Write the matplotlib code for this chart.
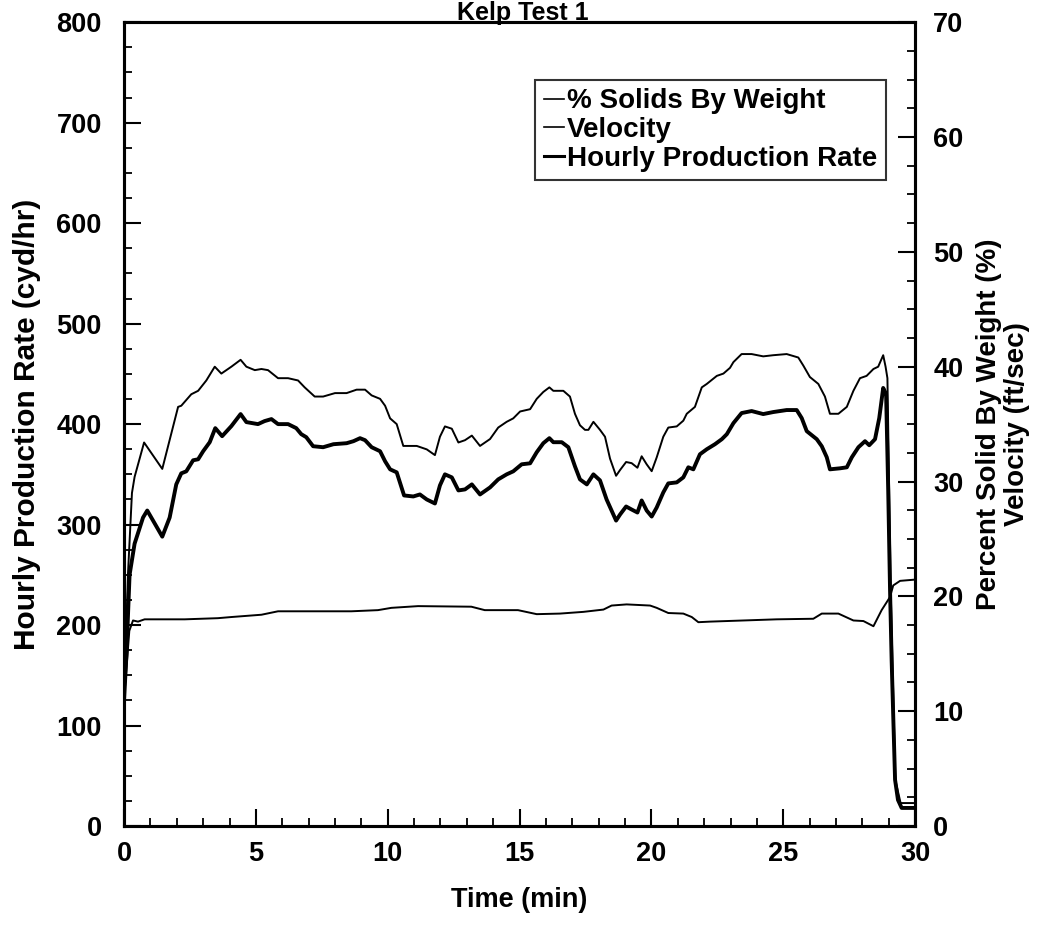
import matplotlib
matplotlib.use("Agg")
import matplotlib.pyplot as plt
from matplotlib.ticker import MultipleLocator
from matplotlib.lines import Line2D

plt.rcParams['font.family'] = ['Liberation Sans', 'DejaVu Sans']
plt.rcParams['font.weight'] = 'bold'

# hourly production rate (left axis, cyd/hr)
time_rate = [0, 0.09, 0.21, 0.40, 0.56, 0.72, 0.88, 1.10, 1.45, 1.73, 1.98, 2.17, 2.36, 2.62, 2.81,
             3.00, 3.25, 3.46, 3.72, 4.07, 4.42, 4.64, 5.08, 5.33, 5.59, 5.84, 6.22, 6.53, 6.72, 6.91,
             7.17, 7.55, 7.94, 8.44, 8.70, 8.95, 9.14, 9.39, 9.71, 9.90, 10.09, 10.34, 10.62, 10.97,
             11.22, 11.48, 11.79, 11.98, 12.17, 12.43, 12.68, 12.93, 13.19, 13.50, 13.88, 14.19, 14.51,
             14.76, 15.08, 15.40, 15.65, 15.90, 16.13, 16.28, 16.60, 16.85, 17.10, 17.29, 17.55, 17.80,
             18.05, 18.30, 18.66, 18.81, 19.04, 19.25, 19.47, 19.63, 19.82, 20.01, 20.20, 20.45, 20.64,
             20.96, 21.21, 21.40, 21.59, 21.84, 22.10, 22.41, 22.67, 22.86, 23.11, 23.42, 23.80, 24.24,
             24.62, 25.13, 25.51, 25.70, 25.89, 26.27, 26.46, 26.65, 26.77, 27.15, 27.41, 27.60, 27.85,
             28.10, 28.26, 28.48, 28.64, 28.79, 28.90, 28.98, 29.05, 29.11, 29.24, 29.35, 29.49, 29.92]
rate = [125, 170, 250, 281, 294, 307, 314, 304, 288, 307, 340, 351, 353, 364, 365,
        373, 382, 396, 388, 398, 410, 402, 400, 403, 405, 400, 400, 396, 390, 387,
        378, 377, 380, 381, 383, 386, 384, 377, 373, 363, 355, 352, 329, 328,
        330, 325, 321, 339, 350, 347, 334, 335, 340, 330, 337, 345, 350,
        353, 360, 361, 372, 381, 386, 382, 382, 377, 358, 345, 340, 350,
        344, 325, 304, 310, 318, 315, 312, 324, 314, 308, 317, 332, 341,
        342, 347, 357, 355, 370, 375, 380, 385, 390, 401, 411, 413, 410,
        412, 414, 414, 406, 393, 385, 378, 367, 355, 356, 357, 367, 377,
        383, 379, 385, 406, 436, 430, 334, 234, 165, 46, 26, 18, 18]

# % solids by weight (right axis)
time_solids = [0, 0.15, 0.30, 0.40, 0.76, 1.45, 2.05, 2.17, 2.55, 2.81, 3.12, 3.44, 3.69, 4.07, 4.42,
               4.64, 4.96, 5.21, 5.46, 5.84, 6.22, 6.60, 6.85, 7.23, 7.55, 8.00, 8.44, 8.82, 9.14, 9.39,
               9.71, 9.90, 10.09, 10.34, 10.59, 11.10, 11.48, 11.79, 11.98, 12.17, 12.43, 12.68, 12.93,
               13.19, 13.50, 13.88, 14.19, 14.51, 14.76, 15.02, 15.40, 15.65, 15.90, 16.13, 16.28, 16.66,
               16.91, 17.10, 17.29, 17.48, 17.61, 17.80, 18.05, 18.24, 18.43, 18.66, 18.81, 19.04, 19.25,
               19.47, 19.63, 19.82, 20.01, 20.20, 20.45, 20.64, 20.96, 21.21, 21.34, 21.65, 21.91, 22.10,
               22.48, 22.73, 22.98, 23.11, 23.42, 23.80, 24.24, 24.62, 25.13, 25.57, 25.76, 26.01, 26.33,
               26.58, 26.77, 27.09, 27.41, 27.66, 27.91, 28.16, 28.42, 28.60, 28.79, 28.88, 28.95, 29.08,
               29.25, 29.45, 29.92]
solids = [11, 22, 29, 30.4, 33.4, 31.1, 36.5, 36.6, 37.6, 37.9, 38.8, 40.0, 39.4, 40.0, 40.6,
          40.0, 39.7, 39.8, 39.7, 39.0, 39.0, 38.8, 38.2, 37.4, 37.4, 37.7, 37.7, 38.0, 38.0, 37.5,
          37.2, 36.6, 35.5, 35.0, 33.1, 33.1, 32.8, 32.3, 33.9, 34.8, 34.6, 33.4, 33.6,
          34.0, 33.1, 33.7, 34.7, 35.2, 35.5, 36.1, 36.3, 37.2, 37.8, 38.2, 37.9, 37.9,
          37.4, 35.9, 34.9, 34.5, 34.5, 35.2, 34.5, 33.9, 32.0, 30.5, 31.0, 31.7, 31.6,
          31.2, 32.2, 31.5, 30.9, 32.1, 33.9, 34.7, 34.8, 35.3, 35.9, 36.5, 38.2, 38.5,
          39.2, 39.4, 39.9, 40.4, 41.1, 41.1, 40.9, 41.0, 41.1, 40.8, 40.1, 39.1, 38.5,
          37.4, 35.9, 35.9, 36.5, 37.9, 39.0, 39.2, 39.8, 40.0, 41.0, 40.0, 39.0, 20,
          4, 2.0, 2.0]

# velocity (right axis, ft/sec)
time_vel = [0, 0.20, 0.34, 0.53, 0.78, 2.30, 3.56, 4.07, 5.21, 5.84, 7.36, 8.62, 9.63, 10.14, 11.15,
            13.17, 13.68, 14.94, 15.65, 16.53, 17.42, 18.18, 18.49, 19.06, 19.95, 20.20, 20.64, 21.21,
            21.53, 21.78, 22.22, 23.49, 24.75, 26.14, 26.46, 27.09, 27.66, 28.04, 28.42, 28.73, 29.05,
            29.17, 29.43, 29.95]
velocity = [11, 17.0, 17.9, 17.8, 18.0, 18.0, 18.1, 18.2, 18.4, 18.7, 18.7, 18.7, 18.8, 19.0, 19.15,
            19.1, 18.8, 18.8, 18.45, 18.5, 18.65, 18.85, 19.2, 19.3, 19.2, 19.0, 18.55, 18.5,
            18.2, 17.75, 17.8, 17.9, 18.0, 18.05, 18.5, 18.5, 17.9, 17.85, 17.4, 18.8, 19.95,
            20.95, 21.35, 21.45]

legend_labels = ['% Solids By Weight', 'Velocity', 'Hourly Production Rate']

fig = plt.figure(figsize=(10.45, 9.25), dpi=100)
ax = fig.add_axes([0.1187, 0.107, 0.757, 0.869])
ax2 = ax.twinx()

ax.plot(time_rate, rate, color='black', linewidth=2.8, solid_joinstyle='round')
ax2.plot(time_solids, solids, color='black', linewidth=1.4)
ax2.plot(time_vel, velocity, color='black', linewidth=1.4)

ax.set_xlim(0, 30)
ax.set_ylim(0, 800)
ax2.set_ylim(0, 70)

ax.xaxis.set_major_locator(MultipleLocator(5))
ax.xaxis.set_minor_locator(MultipleLocator(1))
ax.yaxis.set_major_locator(MultipleLocator(100))
ax.yaxis.set_minor_locator(MultipleLocator(25))
ax2.yaxis.set_major_locator(MultipleLocator(10))
ax2.yaxis.set_minor_locator(MultipleLocator(2.5))

for a in (ax, ax2):
    for s in a.spines.values():
        s.set_linewidth(2.2)
ax.tick_params(axis='both', which='major', direction='in', length=12, width=1.5,
               labelsize=19.5, pad=11, top=False, right=False)
ax.tick_params(axis='both', which='minor', direction='in', length=6, width=1.3,
               top=False, right=False)
ax.tick_params(axis='y', which='major', pad=16)
ax2.tick_params(axis='y', which='major', direction='in', length=12, width=1.5,
                labelsize=19.5, pad=13)
ax2.tick_params(axis='y', which='minor', direction='in', length=6, width=1.3)

ax.set_xlabel('Time (min)', fontsize=19.5, fontweight='bold', labelpad=14)
ax.set_ylabel('Hourly Production Rate (cyd/hr)', fontsize=21.5, fontweight='bold', labelpad=11)
ax2.set_ylabel('Percent Solid By Weight (%)\nVelocity (ft/sec)', fontsize=20, fontweight='bold',
               rotation=90, labelpad=9, linespacing=1.08)

fig.text(0.50, 1 - 1 / 925, 'Kelp Test 1', ha='center', va='top',
         fontsize=18, fontweight='bold')

handles = [Line2D([], [], color='black', linewidth=1.2),
           Line2D([], [], color='black', linewidth=1.2),
           Line2D([], [], color='black', linewidth=2.2)]
leg = ax.legend(handles, legend_labels, loc='upper right', bbox_to_anchor=(0.963, 0.928),
                fontsize=20, frameon=True, fancybox=False, handlelength=0.75, handletextpad=0.1,
                labelspacing=0.1, borderpad=0.3, borderaxespad=0)
leg.get_frame().set_edgecolor('black')
leg.get_frame().set_linewidth(1.5)
for t in leg.get_texts():
    t.set_fontweight('bold')

fig.savefig('out.png', dpi=100)
